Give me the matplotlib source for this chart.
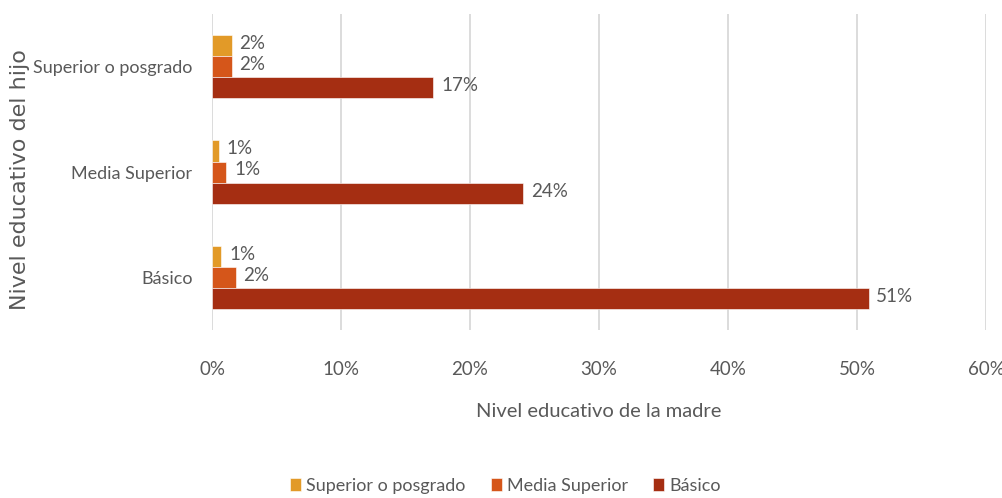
import matplotlib
matplotlib.use("Agg")
import matplotlib.pyplot as plt
import numpy as np

# ---------------- datos ----------------
categorias = ["Básico", "Media Superior", "Superior o posgrado"]
series = ["Superior o posgrado", "Media Superior", "Básico"]
val_superior = [0.0072, 0.0051, 0.0152]
val_media = [0.0183, 0.0110, 0.0152]
val_basico = [0.509, 0.241, 0.1715]
ticks_x = [0, 0.1, 0.2, 0.3, 0.4, 0.5, 0.6]

colores = ["#E29A28", "#D5561A", "#A52E12"]
gris = "#595959"
fuente = ["Lato", "DejaVu Sans"]
tam = 13

# ---------------- grafica ----------------
fig = plt.figure(figsize=(10.03, 4.98), dpi=100)
ax = fig.add_axes([0.2114, 0.337, 0.983 - 0.2114, 0.972 - 0.337])

y = np.arange(len(categorias))
alto = 0.2
desplaz = [alto, 0, -alto]
for datos, col, d, nombre in zip([val_superior, val_media, val_basico], colores, desplaz, series):
    barras = ax.barh(y + d, datos, height=alto, color=col, label=nombre,
                     edgecolor="white", linewidth=0.4)
    for b, v in zip(barras, datos):
        ax.text(b.get_width() + 0.006, b.get_y() + b.get_height() / 2 + 0.02,
                "{:.0%}".format(v), va="center", ha="left",
                fontsize=tam + 0.5, color=gris, family=fuente)

ax.set_xlim(0, 0.6)
ax.set_ylim(-0.5, 2.5)
ax.set_xticks(ticks_x)
ax.set_xticklabels(["{:.0%}".format(t) for t in ticks_x], fontsize=tam + 0.5, color=gris, family=fuente)
ax.set_yticks(y)
ax.set_yticklabels(categorias, fontsize=tam, color=gris, family=fuente)
ax.tick_params(length=0)
ax.tick_params(axis="y", pad=14)
ax.tick_params(axis="x", pad=22)

ax.grid(axis="x", color="#D9D9D9", linewidth=1.3)
ax.set_axisbelow(True)
for s in ax.spines.values():
    s.set_visible(False)

ax.set_xlabel("Nivel educativo de la madre", fontsize=14.5, color=gris, family=fuente, labelpad=18)
fig.text(0.02, 0.64, "Nivel educativo del hijo", rotation=90, fontsize=16,
         color=gris, ha="center", va="center", family="DejaVu Sans")

leg = fig.legend(loc="center", bbox_to_anchor=(0.504, 0.025), ncol=3, frameon=False,
                 prop={"family": fuente, "size": tam}, handlelength=0.6, handleheight=0.7,
                 handletextpad=0.3, columnspacing=1.4)
for t in leg.get_texts():
    t.set_color(gris)

fig.savefig("out.png", dpi=100)
